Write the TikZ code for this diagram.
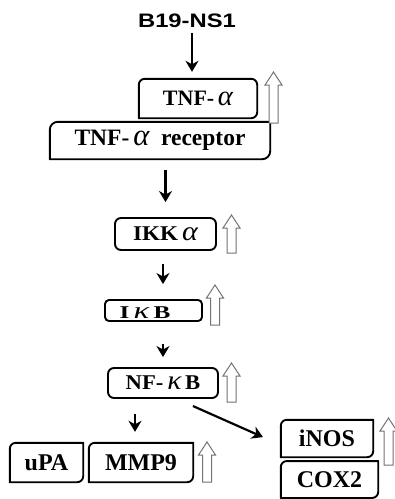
\documentclass[tikz,border=0pt]{standalone}
\usepackage{fontspec}
\setmainfont{Liberation Serif}
\setsansfont{Liberation Sans}
\usepackage{graphicx}
\usetikzlibrary{arrows.meta,calc}
\tikzset{
  boxline/.style={line width=1.9pt, line join=round},
  lbl/.style={inner sep=0pt, font=\bfseries\fontsize{24}{28}\selectfont},
  rbox/.style={lbl, draw, boxline, rounded corners=6pt},
  pbox/.style={lbl},
  arr/.style={line width=2.2pt, -{Stealth[length=11pt,width=13pt,inset=3.5pt]}},
  hol/.style={draw=black!55, line width=1pt, fill=white},
}
\newcommand\gk[1]{{\mdseries\itshape\scalebox{1.3}{#1}}}
% outline with per-corner radii: node, TL, TR, BR, BL (pt)
\newcommand\cornerline[5]{%
  \draw[boxline] ([yshift=#5pt]#1.south west) -- ([yshift=-#2pt]#1.north west)
    arc[start angle=180,end angle=90,radius=#2pt] -- ([xshift=-#3pt]#1.north east)
    arc[start angle=90,end angle=0,radius=#3pt] -- ([yshift=#4pt]#1.south east)
    arc[start angle=0,end angle=-90,radius=#4pt] -- ([xshift=#5pt]#1.south west)
    arc[start angle=270,end angle=180,radius=#5pt] -- cycle;}
\newcommand\hollowup[3]{% x, top, bottom
  \draw[hol] (#1-4.5,#3) -- (#1-4.5,#2+13) -- (#1-8.5,#2+13) -- (#1,#2)
    -- (#1+8.5,#2+13) -- (#1+4.5,#2+13) -- (#1+4.5,#3) -- cycle;}
\begin{document}
\begin{tikzpicture}[x=1pt,y=-1pt]
\useasboundingbox (0,0) rectangle (395,499);

\node[inner sep=0pt, anchor=base, font=\sffamily\bfseries\fontsize{19.5}{22}\selectfont] (b19) at (187,27) {\scalebox{1.22}[1]{B19-NS1}};

% boxes
\node[pbox, minimum width=118pt, minimum height=39pt, font=\bfseries\fontsize{22}{26}\selectfont] (tnf) at (198,98.5) {TNF-\,\gk{α}};
\node[pbox, minimum width=220pt, minimum height=37pt, font=\bfseries\fontsize{23.5}{26}\selectfont] (rec) at (160,140.5) {TNF-\,\gk{α}\ \ receptor};
\node[rbox, minimum width=101pt, minimum height=32pt, font=\bfseries\fontsize{21}{24}\selectfont] (ikk) at (165.5,234) {\scalebox{1.1}[1]{IKK\,\gk{α}}};
\node[rbox, minimum width=97pt, minimum height=21pt, rounded corners=4pt] (ikb) at (153.5,310.5) {};
\node[inner sep=0pt, anchor=base, font=\bfseries\fontsize{18}{20}\selectfont] (ikbt) at (145,318) {\scalebox{1.4}[1]{I\,\gk{κ}\,B}};
\node[rbox, minimum width=110pt, minimum height=30pt, font=\bfseries\fontsize{21}{24}\selectfont] (nfkb) at (163,383) {\scalebox{1.08}[1]{NF-\,\gk{κ}\,B}};
\node[pbox, minimum width=73pt, minimum height=39pt] (upa) at (46.5,462.5) {uPA};
\node[pbox, minimum width=104pt, minimum height=39pt] (mmp) at (141,462.5) {MMP9};
\node[pbox, minimum width=92pt, minimum height=37pt] (inos) at (327,438.5) {iNOS};
\node[pbox, minimum width=97pt, minimum height=36.5pt] (cox) at (329.5,479.5) {COX2};

\cornerline{tnf}{6}{6}{6}{0.01}
\cornerline{rec}{8}{0.01}{8}{0.01}
\cornerline{upa}{6}{0.01}{6}{0.01}
\cornerline{mmp}{6}{0.01}{6}{0.01}
\cornerline{inos}{6}{0.01}{6}{0.01}
\cornerline{cox}{6}{0.01}{6}{0.01}

% up-regulation marks
\hollowup{273.5}{72}{123}
\hollowup{231.5}{215}{253}
\hollowup{215}{285}{325}
\hollowup{231.5}{363}{402}
\hollowup{207}{442}{482}
\hollowup{388.5}{418}{465}

% connectors
\draw[arr, shorten <=6pt, shorten >=7pt] ([xshift=5pt]b19.base) -- ([xshift=5pt]b19.base |- tnf.north);
\draw[arr, shorten <=11pt, shorten >=15pt] (ikk.north |- rec.south) -- (ikk.north);
\draw[arr, shorten <=13pt, shorten >=15pt] ([xshift=-2.5pt]ikk.south) -- ([xshift=-2.5pt]ikk.south |- ikb.north);
\draw[arr, shorten <=22pt, shorten >=10pt] (nfkb.north |- ikb.south) -- (nfkb.north);
\draw[arr, shorten <=15pt, shorten >=11pt] ([xshift=-6pt]mmp.north |- nfkb.south) -- ([xshift=-6pt]mmp.north);
\draw[arr, shorten <=17.5pt, shorten >=19.5pt] ([xshift=-42pt]nfkb.south east) -- ([yshift=-6.5pt]inos.west);
\end{tikzpicture}
\end{document}
